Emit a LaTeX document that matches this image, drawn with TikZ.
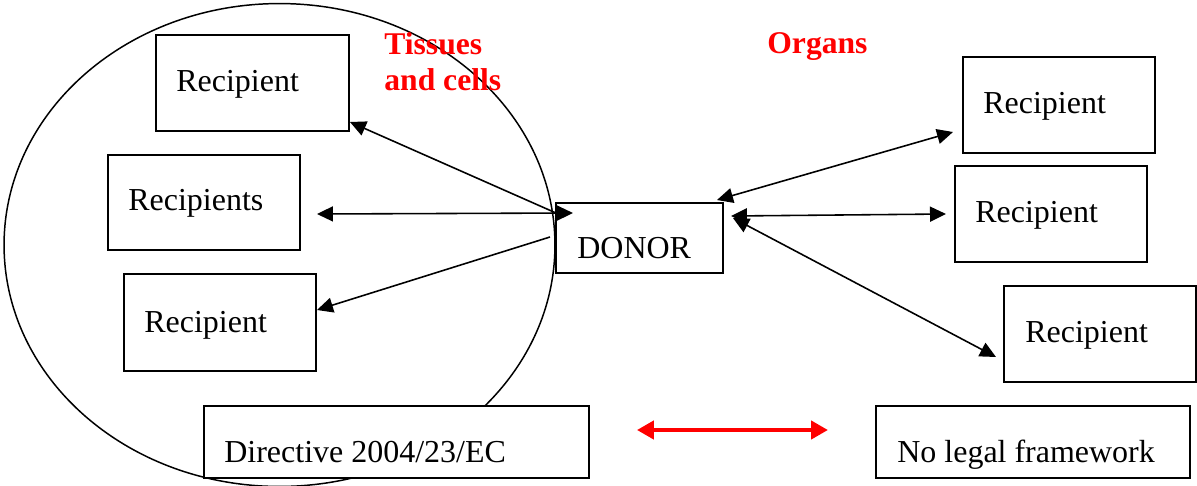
\documentclass[tikz,border=0pt]{standalone}
\usepackage{fontspec}
\setmainfont{Liberation Serif}
\usetikzlibrary{calc,arrows.meta}
\begin{document}
\begin{tikzpicture}[x=0.02cm,y=-0.02cm,
  box/.style={draw=black,fill=white,line width=0.9pt,anchor=north west,inner sep=0pt,outer sep=0pt},
  lbl/.style={anchor=base west,inner sep=0pt,font=\fontsize{18.2}{22}\selectfont},
  ttl/.style={anchor=base west,inner sep=0pt,text=red,font=\fontsize{18}{22}\selectfont\bfseries},
  conn/.style={line width=0.9pt,{Triangle[length=0.32cm,width=0.3cm]}-{Triangle[length=0.32cm,width=0.3cm]}},
  oneway/.style={line width=0.9pt,-{Triangle[length=0.32cm,width=0.3cm]}},
  redconn/.style={red,line width=2.8pt,{Triangle[length=0.34cm,width=0.36cm]}-{Triangle[length=0.34cm,width=0.36cm]}}]
\useasboundingbox (0,0) rectangle (1197,485);
% ellipse of tissues and cells
\draw[line width=0.85pt] (279.5,245) ellipse [x radius=5.51cm, y radius=4.83cm];
% titles
\node[ttl] (tis1) at (384,54) {Tissues};
\node[ttl] (tis2) at (384,90) {and cells};
\node[ttl] (org) at (767,53) {Organs};
% boxes
\node[box,minimum width=3.86cm,minimum height=1.92cm] (r1) at (156,35) {};
\node[box,minimum width=3.84cm,minimum height=1.90cm] (r2) at (108,155) {};
\node[box,minimum width=3.84cm,minimum height=1.94cm] (r3) at (124,274) {};
\node[box,minimum width=7.70cm,minimum height=1.44cm] (dir) at (204,406) {};
\node[box,minimum width=3.34cm,minimum height=1.40cm] (donor) at (556,203) {};
\node[box,minimum width=3.84cm,minimum height=1.92cm] (o1) at (963,57) {};
\node[box,minimum width=3.84cm,minimum height=1.92cm] (o2) at (955,166) {};
\node[box,minimum width=3.84cm,minimum height=1.92cm] (o3) at (1004,286) {};
\node[box,minimum width=6.28cm,minimum height=1.44cm] (nl) at (876,406) {};
% texts
\node[lbl] (r1t) at (176,91) {Recipient};
\node[lbl] (r2t) at (128,210) {Recipients};
\node[lbl] (r3t) at (144,332) {Recipient};
\node[lbl] (dirt) at (224,462) {Directive 2004/23/EC};
\node[lbl] (donort) at (577,258) {DONOR};
\node[lbl] (o1t) at (983,113) {Recipient};
\node[lbl] (o2t) at (975,222) {Recipient};
\node[lbl] (o3t) at (1025,342) {Recipient};
\node[lbl] (nlt) at (897,462) {No legal framework};
% connectors
\draw[oneway] ($(donor.north west)+(0,10)$) -- ($(r1.south east)+(1,-9)$);
\draw[conn] ($(r2.east)+(17,11.5)$) -- ($(donor.north west)+(17,10)$);
\draw[oneway] ($(donor.west)+(-6,-1)$) -- ($(r3.east)+(1,-12.5)$);
\draw[conn] ($(donor.north east)+(-6,-3)$) -- ($(o1.west)+(-10,27)$);
\draw[conn] ($(donor.north east)+(8,13)$) -- ($(o2.west)+(-9,0)$);
\draw[conn] ($(donor.north east)+(10,15)$) -- ($(o3.west)+(-8,23)$);
\draw[redconn] ($(dir.east)+(48,-12)$) -- ($(nl.west)+(-48,-12)$);
\end{tikzpicture}
\end{document}
